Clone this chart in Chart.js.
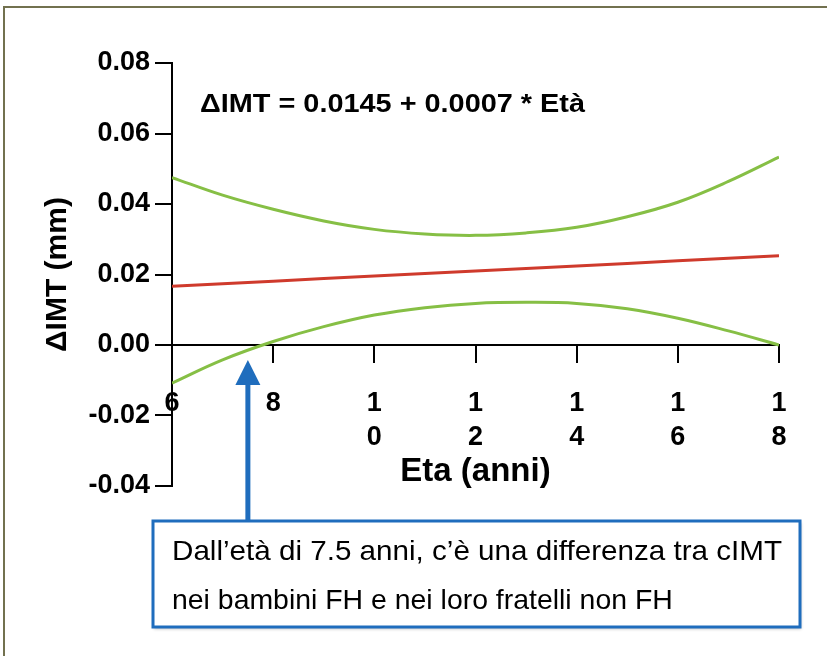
<!DOCTYPE html>
<html>
<head>
<meta charset="utf-8">
<script src="https://cdn.jsdelivr.net/npm/chart.js@4/dist/chart.umd.min.js"></script>
<style>
  html, body { margin: 0; padding: 0; background: #ffffff; }
  #wrap { width: 827px; height: 656px; position: relative; }
  canvas { display: block; }
</style>
</head>
<body>
<div id="wrap"><canvas id="c" width="827" height="656"></canvas></div>
<script>
// ---- data ----
const ages = [6, 7, 8, 9, 10, 11, 12, 13, 14, 15, 16, 17, 18];
const fitLine   = [0.0167, 0.0174, 0.0181, 0.0189, 0.0196, 0.0203, 0.0210, 0.0217, 0.0224, 0.0231, 0.0239, 0.0246, 0.0253];
const upperBand = [0.0475, 0.0425, 0.0385, 0.0352, 0.0328, 0.0315, 0.0311, 0.0318, 0.0334, 0.0364, 0.0405, 0.0464, 0.0533];
const lowerBand = [-0.0108, -0.0042, 0.0010, 0.0052, 0.0085, 0.0106, 0.0118, 0.0121, 0.0118, 0.0103, 0.0076, 0.0040, 0.0000];
const xTickValues = [6, 8, 10, 12, 14, 16, 18];
const xTickLabels = ['6', '8', ['1', '0'], ['1', '2'], ['1', '4'], ['1', '6'], ['1', '8']];
const yTickValues = [-0.04, -0.02, 0.00, 0.02, 0.04, 0.06, 0.08];
const yTickLabels = ['-0.04', '-0.02', '0.00', '0.02', '0.04', '0.06', '0.08'];
const equationText = '\u0394IMT = 0.0145 + 0.0007 * Et\u00e0';
const thresholdAge = 7.5;
const calloutLines = ['Dall\u2019et\u00e0 di 7.5 anni, c\u2019\u00e8 una differenza tra cIMT',
                      'nei bambini FH e nei loro fratelli non FH'];
const xTitle = 'Eta (anni)';
const yTitle = '\u0394IMT (mm)';

const FONT = '"Liberation Sans", Arial, Helvetica, sans-serif';
const GREEN = '#86bf45';
const RED = '#cf3a2c';
const BLUE = '#1f6dbd';

function pts(ys) { return ages.map((a, i) => ({ x: a, y: ys[i] })); }

const annotations = {
  id: 'annotations',
  afterDraw(chart) {
    const ctx = chart.ctx;
    const xs = chart.scales.x, ys = chart.scales.y;
    ctx.save();
    // outer frame (top & left visible)
    ctx.strokeStyle = '#72714f';
    ctx.lineWidth = 2;
    ctx.beginPath();
    ctx.moveTo(4, 656); ctx.lineTo(4, 7); ctx.lineTo(827, 7);
    ctx.stroke();

    // equation text
    ctx.fillStyle = '#000';
    ctx.font = 'bold 26px ' + FONT;
    ctx.textBaseline = 'middle';
    ctx.textAlign = 'left';
    let w = ctx.measureText(equationText).width;
    let sx = 385 / w;
    ctx.save();
    ctx.translate(200, 105);
    ctx.scale(sx, 1);
    ctx.fillText(equationText, 0, 0);
    ctx.restore();

    // callout box
    const bx = 153, by = 521, bw = 647, bh = 106;
    ctx.save();
    ctx.shadowColor = 'rgba(0,0,0,0.25)';
    ctx.shadowBlur = 3;
    ctx.shadowOffsetX = 1;
    ctx.shadowOffsetY = 2;
    ctx.fillStyle = '#fff';
    ctx.fillRect(bx, by, bw, bh);
    ctx.restore();
    ctx.strokeStyle = BLUE;
    ctx.lineWidth = 3;
    ctx.strokeRect(bx, by, bw, bh);

    // arrow from box up to the zero crossing
    const ax = xs.getPixelForValue(thresholdAge);
    const tipY = ys.getPixelForValue(0) + 15;
    ctx.strokeStyle = BLUE;
    ctx.lineWidth = 5;
    ctx.beginPath();
    ctx.moveTo(ax, by - 1);
    ctx.lineTo(ax, tipY + 20);
    ctx.stroke();
    ctx.fillStyle = BLUE;
    ctx.beginPath();
    ctx.moveTo(ax, tipY);
    ctx.lineTo(ax - 12.5, tipY + 25);
    ctx.lineTo(ax + 12.5, tipY + 25);
    ctx.closePath();
    ctx.fill();

    // callout text
    ctx.fillStyle = '#000';
    ctx.font = '28px ' + FONT;
    w = ctx.measureText(calloutLines[0]).width;
    sx = 610 / w;
    calloutLines.forEach((line, i) => {
      ctx.save();
      ctx.translate(172, 552 + i * 49);
      ctx.scale(sx * (i === 1 ? 0.96 : 1), 1);
      ctx.fillText(line, 0, 0);
      ctx.restore();
    });
    ctx.restore();
  }
};

const chart = new Chart(document.getElementById('c'), {
  type: 'line',
  data: {
    datasets: [
      { label: 'upper', data: pts(upperBand), borderColor: GREEN, borderWidth: 3, pointRadius: 0, tension: 0.4, fill: false },
      { label: 'fit', data: pts(fitLine), borderColor: RED, borderWidth: 3, pointRadius: 0, tension: 0, fill: false },
      { label: 'lower', data: pts(lowerBand), borderColor: GREEN, borderWidth: 3, pointRadius: 0, tension: 0.4, fill: false }
    ]
  },
  options: {
    responsive: false,
    animation: false,
    events: [],
    layout: { padding: { left: 20, top: 63, right: 48, bottom: 170 } },
    plugins: { legend: { display: false }, tooltip: { enabled: false }, title: { display: false } },
    scales: {
      x: {
        type: 'linear',
        min: 6, max: 18,
        position: { y: 0 },
        afterBuildTicks(scale) { scale.ticks = xTickValues.map(v => ({ value: v })); },
        ticks: {
          color: '#000',
          font: { family: FONT, size: 27, weight: 'bold', lineHeight: 1.26 },
          padding: 25,
          maxRotation: 0,
          autoSkip: false,
          callback(v) { const i = xTickValues.indexOf(v); return i >= 0 ? xTickLabels[i] : ''; }
        },
        grid: { drawOnChartArea: false, drawTicks: true, tickLength: 17, color: '#000', lineWidth: 2 },
        border: { display: true, color: '#000', width: 2 },
        title: { display: true, text: xTitle, color: '#000', font: { family: FONT, size: 33, weight: 'bold', lineHeight: 1.0 }, padding: { top: -25, bottom: 0 } }
      },
      y: {
        type: 'linear',
        min: -0.04, max: 0.08,
        afterBuildTicks(scale) { scale.ticks = yTickValues.map(v => ({ value: v })); },
        ticks: {
          color: '#000',
          font: { family: FONT, size: 27, weight: 'bold' },
          padding: 5,
          callback(v) { const i = yTickValues.findIndex(t => Math.abs(t - v) < 1e-9); return i >= 0 ? yTickLabels[i] : ''; }
        },
        grid: { drawOnChartArea: false, drawTicks: true, tickLength: 17, color: '#000', lineWidth: 2 },
        border: { display: true, color: '#000', width: 2 },
        title: { display: true, text: yTitle, color: '#000', font: { family: FONT, size: 30, weight: 'bold' }, padding: { top: 0, bottom: 8 } }
      }
    }
  },
  plugins: [annotations]
});

// adjust padding so the plot area lands where it sits in the reference
const target = { left: 172, top: 63, right: 779, bottom: 486 };
for (let k = 0; k < 3; k++) {
  const ca = chart.chartArea;
  const p = chart.options.layout.padding;
  p.left += target.left - ca.left;
  p.top += target.top - ca.top;
  p.right += ca.right - target.right;
  p.bottom += ca.bottom - target.bottom;
  chart.update('none');
}
</script>
</body>
</html>
